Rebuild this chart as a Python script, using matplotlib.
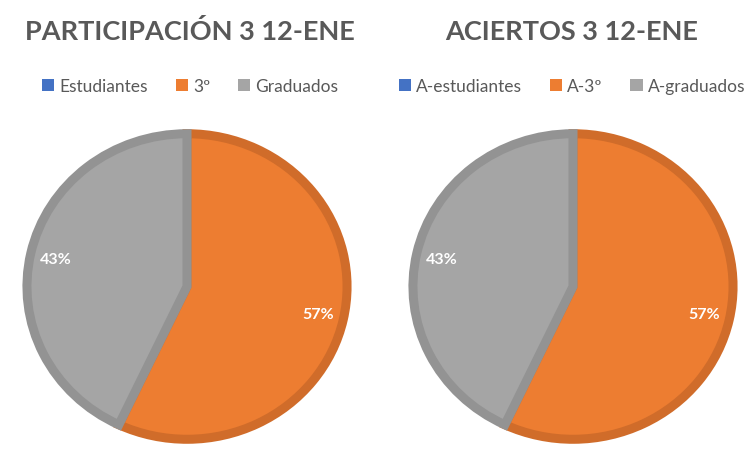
import matplotlib.pyplot as plt
from matplotlib.patches import Patch

plt.rcParams['font.family'] = ['Lato', 'DejaVu Sans']

# data
left_title = 'PARTICIPACIÓN 3 12-ENE'
left_labels = ['Estudiantes', '3º', 'Graduados']
left_values = [0, 57, 43]

right_title = 'ACIERTOS 3 12-ENE'
right_labels = ['A-estudiantes', 'A-3º', 'A-graduados']
right_values = [0, 57, 43]

colors = ['#4472C4', '#ED7D31', '#A5A5A5']
edges = ['#3A62A8', '#D06C2A', '#939393']
text_gray = '#595959'


def pct(p):
    return '' if p < 0.5 else '%d%%' % round(p)


def draw_pie(rect, values, labels, title, cx):
    ax = fig.add_axes(rect)
    wedges, texts, autotexts = ax.pie(values, colors=colors, startangle=90,
                                      counterclock=False, autopct=pct,
                                      pctdistance=0.84, radius=0.97,
                                      wedgeprops={'linewidth': 6.5})
    for w, e, v in zip(wedges, edges, values):
        w.set_edgecolor(e)
        if v == 0:
            w.set_linewidth(0)
    for t in autotexts:
        t.set_color('white')
        t.set_fontsize(11.5)
        t.set_fontweight('bold')
    ax.set_aspect('auto')
    ax.set_xlim(-1, 1)
    ax.set_ylim(-1, 1)

    fig.text(cx, 1 - 32 / 460, title, ha='center', va='center',
             fontsize=19.5, fontweight='bold', color=text_gray)
    handles = [Patch(facecolor=c, edgecolor='none') for c in colors]
    fig.legend(handles, labels, loc='center', bbox_to_anchor=(cx, 1 - 87 / 460),
               ncol=3, frameon=False, fontsize=12.5, handlelength=0.7,
               handleheight=0.7, handletextpad=0.3, columnspacing=1.6,
               labelcolor=text_gray)


fig = plt.figure(figsize=(7.54, 4.6), dpi=100)

draw_pie([22 / 754, 15 / 460, 330 / 754, 315 / 460], left_values, left_labels,
         left_title, 190 / 754)
draw_pie([408 / 754, 15 / 460, 330 / 754, 315 / 460], right_values, right_labels,
         right_title, 572 / 754)

fig.savefig('out.png', dpi=100)
